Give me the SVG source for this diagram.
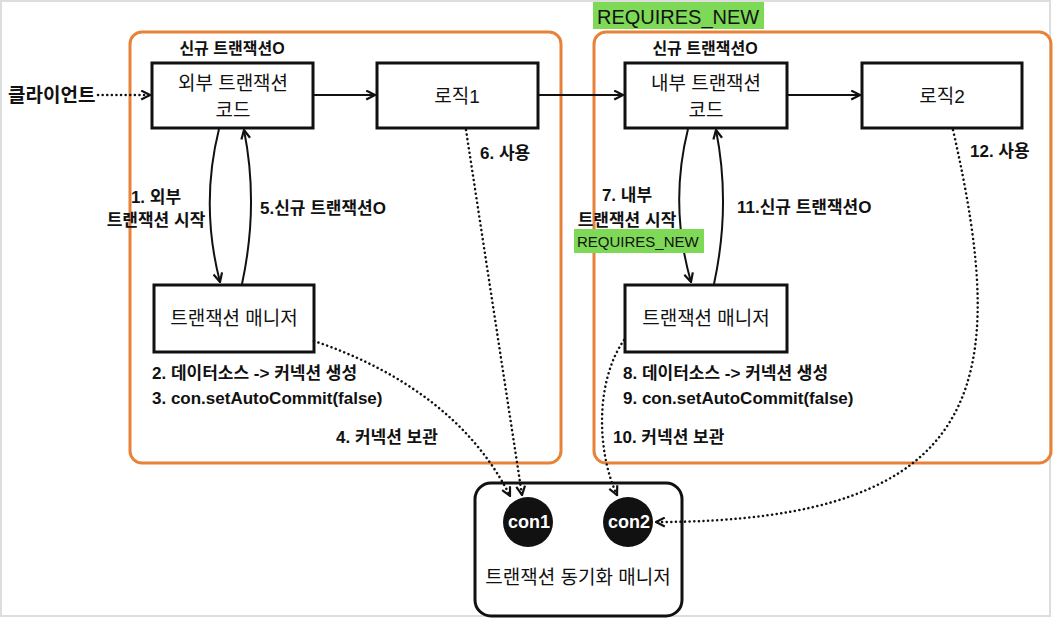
<svg xmlns="http://www.w3.org/2000/svg" width="1056" height="622" viewBox="0 0 1056 622">
<style>
text{font-family:"Liberation Sans","Noto Sans CJK KR",sans-serif;fill:#111}
.lbl{font-size:17px;font-weight:bold}
.hdr{font-size:16px;font-weight:bold}
.node{font-size:19px}
.box{fill:#fff;stroke:#111;stroke-width:3}
.scope{fill:none;stroke:#E8823A;stroke-width:3}
.arr{fill:none;stroke:#111;stroke-width:2}
.dot{fill:none;stroke:#111;stroke-width:2.5;stroke-dasharray:0.1 4.5;stroke-linecap:round}
.tag{fill:#7ED957}
.con{font-size:18px;font-weight:bold}
</style>
<defs>
<marker id="ah" viewBox="0 0 10 10" refX="9" refY="5" markerWidth="11" markerHeight="11" markerUnits="userSpaceOnUse" orient="auto">
<path d="M1,1 L9,5 L1,9" fill="none" stroke="#111" stroke-width="2"/>
</marker>
</defs>
<rect x="1" y="1" width="1049" height="615" fill="#fff" stroke="#ddd" stroke-width="2"/>

<g id="scope-outer">
<rect class="scope" x="130" y="32" width="431" height="431" rx="12"/>
<text class="hdr" x="232" y="54" text-anchor="middle">신규 트랜잭션O</text>
</g>
<g id="scope-inner">
<rect class="tag" x="593" y="2" width="171" height="27"/>
<text x="597" y="24" font-size="20">REQUIRES_NEW</text>
<rect class="scope" x="594" y="32" width="457" height="431" rx="12"/>
<text class="hdr" x="705" y="54" text-anchor="middle">신규 트랜잭션O</text>
</g>

<g id="client">
<text x="8" y="102" font-size="19" font-weight="bold">클라이언트</text>
</g>
<g id="outer-code">
<rect class="box" x="152" y="63" width="161" height="65"/>
<text class="node" x="233" y="90" text-anchor="middle">외부 트랜잭션</text>
<text class="node" x="233" y="117" text-anchor="middle">코드</text>
</g>
<g id="logic1">
<rect class="box" x="377" y="63" width="161" height="65"/>
<text class="node" x="457" y="103" text-anchor="middle">로직1</text>
</g>
<g id="inner-code">
<rect class="box" x="625" y="63" width="162" height="65"/>
<text class="node" x="706" y="90" text-anchor="middle">내부 트랜잭션</text>
<text class="node" x="706" y="117" text-anchor="middle">코드</text>
</g>
<g id="logic2">
<rect class="box" x="862" y="63" width="160" height="65"/>
<text class="node" x="942" y="103" text-anchor="middle">로직2</text>
</g>
<g id="tm-outer">
<rect class="box" x="154" y="285" width="160" height="67"/>
<text class="node" x="234" y="325" text-anchor="middle">트랜잭션 매니저</text>
</g>
<g id="tm-inner">
<rect class="box" x="625" y="285" width="162" height="67"/>
<text class="node" x="706" y="325" text-anchor="middle">트랜잭션 매니저</text>
</g>
<g id="sync-manager">
<rect class="box" x="475" y="483" width="207" height="133" rx="16"/>
<circle cx="528" cy="522" r="25" fill="#111"/>
<text class="con" x="529" y="528" text-anchor="middle" style="fill:#fff">con1</text>
<circle cx="628" cy="522" r="25" fill="#111"/>
<text class="con" x="629" y="528" text-anchor="middle" style="fill:#fff">con2</text>
<text class="node" x="578" y="584" text-anchor="middle">트랜잭션 동기화 매니저</text>
</g>

<g id="connectors">
<path class="dot" d="M98,95 L150,95" marker-end="url(#ah)"/>
<path class="arr" d="M314,95 L375,95" marker-end="url(#ah)"/>
<path class="arr" d="M539,95 L623,95" marker-end="url(#ah)"/>
<path class="arr" d="M788,95 L860,95" marker-end="url(#ah)"/>
<path class="arr" d="M219,129 Q200,205 220,282" marker-end="url(#ah)"/>
<path class="arr" d="M242,284 Q259,205 244,130" marker-end="url(#ah)"/>
<path class="arr" d="M688,129 Q669,205 691,282" marker-end="url(#ah)"/>
<path class="arr" d="M714,284 Q731,205 716,130" marker-end="url(#ah)"/>
<path class="dot" d="M466,130 L522,495" marker-end="url(#ah)"/>
<path class="dot" d="M314,341 C400,370 472,420 510,496" marker-end="url(#ah)"/>
<path class="dot" d="M624,340 C596,380 596,450 617,495" marker-end="url(#ah)"/>
<path class="dot" d="M953,130 C1010,380 990,522 656,522" marker-end="url(#ah)"/>
</g>

<g id="labels">
<text class="lbl" x="156" y="203" text-anchor="middle">1. 외부</text>
<text class="lbl" x="156" y="226" text-anchor="middle">트랜잭션 시작</text>
<text class="lbl" x="260" y="214">5.신규 트랜잭션O</text>
<text class="lbl" x="480" y="159">6. 사용</text>
<text class="lbl" x="152" y="379">2. 데이터소스 -&gt; 커넥션 생성</text>
<text class="lbl" x="152" y="404">3. con.setAutoCommit(false)</text>
<text class="lbl" x="336" y="443">4. 커넥션 보관</text>
<text class="lbl" x="627" y="201" text-anchor="middle">7. 내부</text>
<text class="lbl" x="627" y="226" text-anchor="middle">트랜잭션 시작</text>
<rect class="tag" x="574" y="229" width="130" height="24"/>
<text x="577" y="247" font-size="15">REQUIRES_NEW</text>
<text class="lbl" x="737" y="213">11.신규 트랜잭션O</text>
<text class="lbl" x="970" y="157">12. 사용</text>
<text class="lbl" x="623" y="379">8. 데이터소스 -&gt; 커넥션 생성</text>
<text class="lbl" x="623" y="404">9. con.setAutoCommit(false)</text>
<text class="lbl" x="613" y="443">10. 커넥션 보관</text>
</g>
</svg>
